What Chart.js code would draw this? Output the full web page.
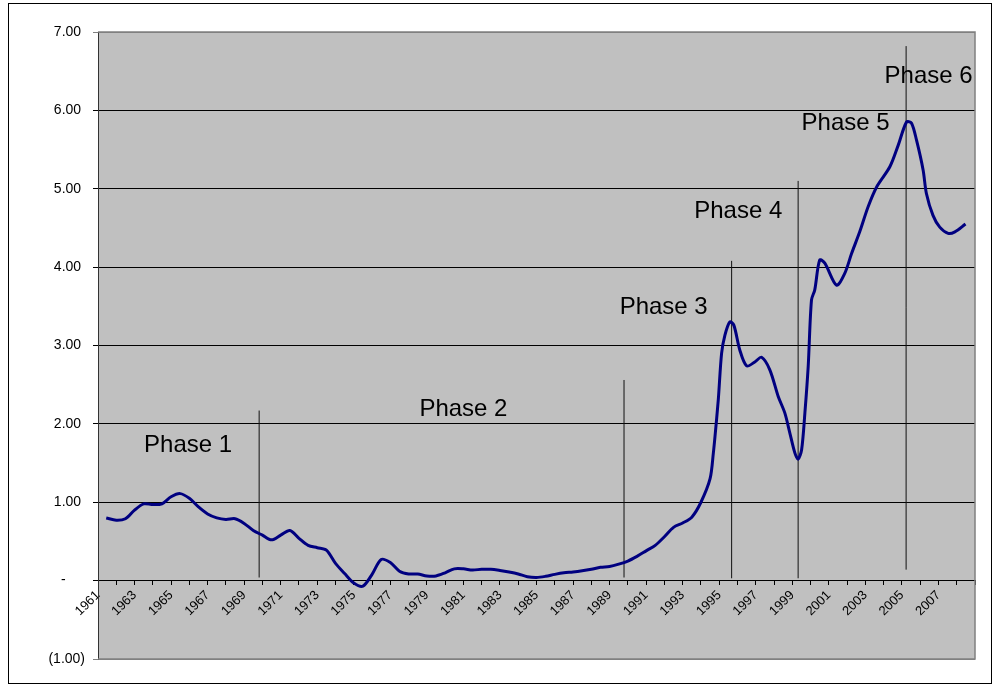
<!DOCTYPE html>
<html>
<head>
<meta charset="utf-8">
<script src="https://cdn.jsdelivr.net/npm/chart.js@4/dist/chart.umd.min.js"></script>
<style>
  body { margin: 0; background: #fff; }
  #wrap { width: 995px; height: 688px; }
</style>
</head>
<body>
<div id="wrap"><canvas id="chart" width="995" height="688"></canvas></div>
<script>
// series (decimal year, value)
const years = [
  1961.45, 1962.0, 1962.5, 1963.0, 1963.5, 1964.0, 1964.5, 1965.0, 1965.5, 1966.0,
  1966.5, 1967.0, 1967.5, 1968.0, 1968.5, 1969.0, 1969.5, 1970.0, 1970.5, 1971.0,
  1971.5, 1972.0, 1972.5, 1973.0, 1973.5, 1974.0, 1974.5, 1975.0, 1975.5, 1976.0,
  1976.5, 1977.0, 1977.5, 1978.0, 1978.5, 1979.0, 1979.5, 1980.0, 1980.5, 1981.0,
  1981.5, 1982.0, 1982.5, 1983.0, 1983.5, 1984.0, 1984.5, 1985.0, 1985.5, 1986.0,
  1986.5, 1987.0, 1987.5, 1988.0, 1988.5, 1989.0, 1989.5, 1990.0, 1990.5, 1991.0,
  1991.5, 1992.0, 1992.5, 1993.0, 1993.5, 1994.0, 1994.5, 1994.68, 1994.77, 1994.95,
  1995.13, 1995.31, 1995.58, 1995.8, 1996.13, 1996.5, 1996.95, 1997.32, 1997.77, 1998.23,
  1998.59, 1998.87, 1999.14, 1999.32, 1999.51, 1999.69, 1999.87, 2000.05, 2000.23, 2000.5,
  2000.78, 2001.42, 2001.87, 2002.24, 2002.69, 2003.15, 2003.61, 2004.34, 2004.79, 2005.25,
  2005.52, 2005.8, 2006.16, 2006.34, 2006.7, 2007.07, 2007.53, 2007.9, 2008.48
];
const values = [
  0.80, 0.77, 0.79, 0.90, 0.98, 0.97, 0.98, 1.07, 1.11, 1.05,
  0.94, 0.85, 0.80, 0.78, 0.79, 0.73, 0.64, 0.58, 0.52, 0.58,
  0.64, 0.54, 0.45, 0.42, 0.39, 0.22, 0.09, -0.03, -0.07, 0.08,
  0.27, 0.23, 0.12, 0.085, 0.085, 0.06, 0.06, 0.10, 0.15, 0.15,
  0.135, 0.145, 0.145, 0.13, 0.11, 0.085, 0.05, 0.04, 0.055, 0.08,
  0.10, 0.11, 0.125, 0.145, 0.17, 0.18, 0.21, 0.25, 0.31, 0.38,
  0.45, 0.56, 0.68, 0.735, 0.81, 1.00, 1.30, 1.63, 1.84, 2.31,
  2.90, 3.13, 3.30, 3.26, 2.94, 2.74, 2.79, 2.85, 2.69, 2.35,
  2.14, 1.88, 1.63, 1.55, 1.67, 2.14, 2.73, 3.58, 3.71, 4.09,
  4.05, 3.77, 3.92, 4.17, 4.45, 4.77, 5.02, 5.28, 5.55, 5.85,
  5.84, 5.62, 5.24, 4.94, 4.66, 4.51, 4.43, 4.45, 4.55
];

// x-axis labels (every other year)
const yearLabels = [1961, 1963, 1965, 1967, 1969, 1971, 1973, 1975, 1977, 1979, 1981, 1983,
  1985, 1987, 1989, 1991, 1993, 1995, 1997, 1999, 2001, 2003, 2005, 2007];

// phase divider lines and phase captions
const phaseLineYears = [1969.82, 1989.79, 1995.68, 1999.32, 2005.23];
const phaseLineBottoms = [0.04, 0.04, 0.03, 0.03, 0.14];
const phaseLineTops = [2.17, 2.56, 4.08, 5.10, 6.82];
const phaseNames = ['Phase 1', 'Phase 2', 'Phase 3', 'Phase 4', 'Phase 5', 'Phase 6'];
const phaseNameYears = [1965.93, 1981.0, 1991.96, 1996.04, 2001.92, 2006.46];
const phaseNameValues = [1.746, 2.205, 3.517, 4.74, 5.853, 6.465];

const FONT = '"Liberation Sans", Arial, sans-serif';

const fmtY = (v) => {
  if (v === 0) return '-     ';
  if (v < 0) return '(' + Math.abs(v).toFixed(2) + ')';
  return v.toFixed(2) + ' ';
};

const lineSets = phaseLineYears.map((yr, i) => ({
  data: [{ x: yr, y: phaseLineBottoms[i] }, { x: yr, y: phaseLineTops[i] }],
  borderColor: '#111',
  borderWidth: 1,
  pointRadius: 0,
  tension: 0,
}));

const frame = {
  id: 'frame',
  beforeDraw(chart) {
    const { ctx, chartArea: a } = chart;
    ctx.save();
    ctx.fillStyle = '#c0c0c0';
    ctx.fillRect(a.left, a.top, a.right - a.left, a.bottom - a.top);
    ctx.strokeStyle = '#000';
    ctx.lineWidth = 1;
    ctx.strokeRect(8.5, 3.5, 983, 680);
    ctx.restore();
  },
  afterDraw(chart) {
    const { ctx, chartArea: a, scales } = chart;
    ctx.save();
    ctx.strokeStyle = '#808080';
    ctx.lineWidth = 1.5;
    ctx.beginPath();
    ctx.moveTo(a.left, a.top);
    ctx.lineTo(a.right, a.top);
    ctx.lineTo(a.right, a.bottom);
    ctx.lineTo(a.left, a.bottom);
    ctx.stroke();
    ctx.fillStyle = '#000';
    ctx.font = '24px ' + FONT;
    ctx.textAlign = 'center';
    ctx.textBaseline = 'alphabetic';
    phaseNames.forEach((name, i) => {
      const px = scales.x.getPixelForValue(phaseNameYears[i]);
      const py = scales.y.getPixelForValue(phaseNameValues[i]) + 0.358 * 24;
      ctx.fillText(name, px, py);
    });
    ctx.restore();
  },
};

new Chart(document.getElementById('chart'), {
  type: 'line',
  data: {
    datasets: [
      {
        data: years.map((yr, i) => ({ x: yr, y: values[i] })),
        borderColor: '#000080',
        borderWidth: 3,
        pointRadius: 0,
        tension: 0.3,
      },
      ...lineSets,
    ],
  },
  options: {
    responsive: false,
    animation: false,
    layout: { padding: { left: 0, top: 32, right: 20, bottom: 29 } },
    plugins: { legend: { display: false }, tooltip: { enabled: false } },
    scales: {
      x: {
        type: 'linear',
        position: { y: 0 },
        min: 1961,
        max: 2009,
        afterFit: (scale) => { scale.height = 0; },
        grid: { display: true, drawOnChartArea: false, drawTicks: true, tickLength: 4, color: '#000' },
        border: { display: true, color: '#000', width: 1 },
        ticks: {
          stepSize: 1,
          autoSkip: false,
          minRotation: 45,
          maxRotation: 45,
          padding: 3,
          color: '#000',
          font: { family: FONT, size: 13 },
          callback: (v) => (yearLabels.includes(v) ? String(v) : ''),
        },
      },
      y: {
        min: -1,
        max: 7,
        afterFit: (scale) => { scale.width = 98; },
        grid: {
          color: (c) => (c.tick && (c.tick.value === 7 || c.tick.value === -1) ? '#808080' : '#000'),
          lineWidth: 1,
          tickLength: 5,
        },
        border: { display: true, color: '#333', width: 1 },
        ticks: {
          stepSize: 1,
          padding: 8,
          color: '#000',
          font: { family: FONT, size: 14 },
          callback: fmtY,
        },
      },
    },
  },
  plugins: [frame],
});
</script>
</body>
</html>
